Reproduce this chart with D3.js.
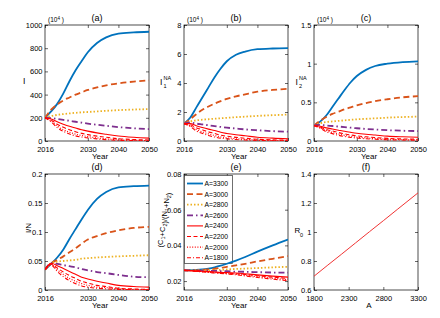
<!DOCTYPE html>
<html>
<head>
<meta charset="utf-8">
<script src="https://cdn.jsdelivr.net/npm/d3@7"></script>
<style>
  body { margin: 0; background: #fff; }
  svg { display: block; font-family: "Liberation Sans", Arial, sans-serif; }
</style>
</head>
<body>
<svg id="chart" width="440" height="318"></svg>
<script>
// ---- data ----
const years = [2016, 2018, 2020, 2022, 2024, 2026, 2028, 2030, 2033, 2036, 2040, 2045, 2050];
const legendLabels = ['A=3300', 'A=3000', 'A=2800', 'A=2600', 'A=2400', 'A=2200', 'A=2000', 'A=1800'];

// (a) I, x10^4
const infected = [
  [200, 255, 320, 410, 515, 610, 690, 765, 845, 893, 925, 936, 942],
  [200, 270, 315, 350, 375, 400, 420, 440, 462, 480, 497, 512, 522],
  [200, 215, 225, 232, 238, 243, 247, 250, 255, 260, 266, 271, 275],
  [200, 198, 190, 182, 174, 166, 158, 150, 140, 131, 120, 110, 103],
  [200, 190, 165, 145, 127, 112, 97, 85, 70, 58, 43, 32, 25],
  [200, 180, 145, 118, 97, 80, 66, 55, 42, 32, 20, 13, 9],
  [200, 172, 128, 98, 76, 59, 47, 38, 27, 19, 11, 6, 4],
  [200, 165, 115, 83, 60, 44, 34, 27, 18, 12, 6, 3, 2]
];
// (b) I1^NA, x10^4
const infected1NA = [
  [1.2, 1.6, 2.3, 3.0, 3.7, 4.4, 5.0, 5.5, 5.95, 6.17, 6.33, 6.38, 6.4],
  [1.2, 1.5, 1.85, 2.15, 2.38, 2.58, 2.75, 2.9, 3.08, 3.22, 3.4, 3.52, 3.6],
  [1.2, 1.35, 1.42, 1.47, 1.5, 1.54, 1.57, 1.6, 1.64, 1.68, 1.73, 1.78, 1.82],
  [1.2, 1.28, 1.2, 1.14, 1.08, 1.02, 0.97, 0.92, 0.86, 0.8, 0.74, 0.68, 0.64],
  [1.2, 1.2, 1.05, 0.93, 0.82, 0.72, 0.6, 0.52, 0.43, 0.36, 0.26, 0.2, 0.16],
  [1.2, 1.12, 0.92, 0.77, 0.63, 0.52, 0.4, 0.33, 0.25, 0.19, 0.12, 0.08, 0.06],
  [1.2, 1.06, 0.8, 0.63, 0.49, 0.38, 0.28, 0.22, 0.16, 0.11, 0.07, 0.04, 0.03],
  [1.2, 1.0, 0.7, 0.52, 0.38, 0.27, 0.19, 0.15, 0.1, 0.07, 0.04, 0.02, 0.01]
];
// (c) I2^NA, x10^4
const infected2NA = [
  [0.2, 0.25, 0.33, 0.44, 0.55, 0.66, 0.76, 0.84, 0.92, 0.97, 1.0, 1.02, 1.03],
  [0.2, 0.26, 0.31, 0.35, 0.38, 0.41, 0.435, 0.46, 0.49, 0.515, 0.54, 0.565, 0.58],
  [0.2, 0.23, 0.245, 0.253, 0.26, 0.267, 0.274, 0.28, 0.287, 0.293, 0.302, 0.31, 0.315],
  [0.2, 0.21, 0.2, 0.194, 0.187, 0.18, 0.172, 0.165, 0.156, 0.149, 0.14, 0.133, 0.128],
  [0.2, 0.19, 0.17, 0.155, 0.14, 0.125, 0.112, 0.1, 0.087, 0.077, 0.063, 0.054, 0.048],
  [0.2, 0.18, 0.15, 0.13, 0.11, 0.093, 0.078, 0.066, 0.054, 0.045, 0.034, 0.027, 0.023],
  [0.2, 0.17, 0.135, 0.11, 0.09, 0.073, 0.06, 0.05, 0.04, 0.032, 0.024, 0.018, 0.015],
  [0.2, 0.165, 0.12, 0.095, 0.074, 0.058, 0.046, 0.038, 0.029, 0.023, 0.016, 0.012, 0.01]
];
// (d) I/N
const infectedRatio = [
  [0.035, 0.045, 0.056, 0.07, 0.088, 0.105, 0.122, 0.138, 0.157, 0.169, 0.177, 0.179, 0.18],
  [0.035, 0.046, 0.052, 0.058, 0.065, 0.072, 0.08, 0.087, 0.093, 0.098, 0.103, 0.107, 0.109],
  [0.035, 0.046, 0.049, 0.05, 0.051, 0.052, 0.054, 0.055, 0.056, 0.057, 0.058, 0.059, 0.06],
  [0.035, 0.046, 0.045, 0.043, 0.041, 0.039, 0.036, 0.034, 0.031, 0.029, 0.026, 0.023, 0.022],
  [0.035, 0.046, 0.042, 0.037, 0.032, 0.027, 0.022, 0.019, 0.015, 0.012, 0.008, 0.006, 0.005],
  [0.035, 0.045, 0.038, 0.031, 0.025, 0.02, 0.015, 0.012, 0.008, 0.006, 0.003, 0.0018, 0.001],
  [0.035, 0.044, 0.035, 0.027, 0.02, 0.015, 0.011, 0.008, 0.005, 0.004, 0.002, 0.001, 0.0005],
  [0.035, 0.043, 0.032, 0.023, 0.016, 0.011, 0.007, 0.005, 0.003, 0.002, 0.001, 0.0005, 0.0002]
];
// (e) (C1+C2)/(N1+N2)
const chronicRatio = [
  [0.026, 0.0261, 0.0262, 0.0265, 0.027, 0.0277, 0.0286, 0.0297, 0.0315, 0.0335, 0.0365, 0.040, 0.0433],
  [0.026, 0.026, 0.026, 0.0262, 0.0265, 0.0269, 0.0274, 0.028, 0.0288, 0.0297, 0.031, 0.0325, 0.034],
  [0.026, 0.026, 0.026, 0.026, 0.026, 0.0261, 0.0263, 0.0265, 0.0268, 0.027, 0.0273, 0.0277, 0.028],
  [0.026, 0.026, 0.0259, 0.0259, 0.0258, 0.0257, 0.0256, 0.0255, 0.0253, 0.0252, 0.025, 0.0248, 0.0247],
  [0.026, 0.0259, 0.0257, 0.0255, 0.0253, 0.0251, 0.0249, 0.0248, 0.0245, 0.0241, 0.0235, 0.0228, 0.0222],
  [0.026, 0.0258, 0.0256, 0.0254, 0.0252, 0.0249, 0.0247, 0.0245, 0.0241, 0.0237, 0.023, 0.0222, 0.0215],
  [0.026, 0.0258, 0.0255, 0.0253, 0.025, 0.0247, 0.0245, 0.0242, 0.0238, 0.0233, 0.0225, 0.0216, 0.0208],
  [0.026, 0.0257, 0.0254, 0.0251, 0.0248, 0.0245, 0.0243, 0.024, 0.0235, 0.0229, 0.022, 0.0211, 0.0202]
];
// (f) R0 against A
const aValues = [1800, 2000, 2200, 2400, 2600, 2800, 3000, 3300];
const r0Values = [0.695, 0.772, 0.848, 0.925, 1.002, 1.078, 1.155, 1.27];

const yearTicks = [2016, 2030, 2040, 2050];
const aTicks = [1800, 2300, 2800, 3300];

// matlab-ish line styles
const colors = ['#0072BD', '#D95319', '#EDB120', '#7E2F8E', '#FF0000', '#FF0000', '#FF0000', '#FF0000'];
const widths = [1.8, 1.8, 1.8, 1.8, 1.1, 1.1, 1.1, 1.1];
const dashes = [null, '6,3.5', '1.5,2', '6,3,1.5,3', null, '4,2.5', '1,1.6', '4,2,1,2'];

const svg = d3.select('#chart');
const font = '"Liberation Sans", Arial, sans-serif';
const colX = [45, 184, 314];
const rowY = [25, 174];
const pw = 104, ph = 116;

const panels = [
  { tag: '(a)', col: 0, row: 0, series: infected, yDomain: [0, 1000], yTicks: [0, 200, 400, 600, 800, 1000], exp: true },
  { tag: '(b)', col: 1, row: 0, series: infected1NA, yDomain: [0, 8], yTicks: [0, 2, 4, 6, 8], exp: true },
  { tag: '(c)', col: 2, row: 0, series: infected2NA, yDomain: [0, 1.5], yTicks: [0, 0.5, 1, 1.5], exp: true },
  { tag: '(d)', col: 0, row: 1, series: infectedRatio, yDomain: [0, 0.2], yTicks: [0, 0.05, 0.1, 0.15, 0.2] },
  { tag: '(e)', col: 1, row: 1, series: chronicRatio, yDomain: [0.015, 0.08], yTicks: [0.02, 0.04, 0.06, 0.08], legend: true },
  { tag: '(f)', col: 2, row: 1, yDomain: [0.6, 1.4], yTicks: [0.6, 0.8, 1, 1.2, 1.4] }
];

function styleAxis(g) {
  g.select('.domain').remove();
  g.attr('font-family', font).attr('font-size', 7.5);
  g.selectAll('line').attr('stroke', '#000').attr('stroke-width', 0.6);
  g.selectAll('text').attr('fill', '#000');
}

panels.forEach((p, i) => {
  const x0 = colX[p.col], y0 = rowY[p.row];
  const g = svg.append('g').attr('transform', `translate(${x0},${y0})`);
  const isF = !p.series;
  const x = d3.scaleLinear().domain(isF ? [1800, 3300] : [2016, 2050]).range([0, pw]);
  const y = d3.scaleLinear().domain(p.yDomain).range([ph, 0]);
  const xt = isF ? aTicks : yearTicks;

  svg.append('clipPath').attr('id', 'clip' + i)
    .append('rect').attr('x', x0).attr('y', y0).attr('width', pw).attr('height', ph);
  const plot = svg.append('g').attr('clip-path', `url(#clip${i})`)
    .append('g').attr('transform', `translate(${x0},${y0})`);

  if (isF) {
    const line = d3.line().x((d, k) => x(aValues[k])).y(d => y(d));
    plot.append('path').datum(r0Values).attr('d', line)
      .attr('fill', 'none').attr('stroke', '#f03434').attr('stroke-width', 1);
  } else {
    const line = d3.line().curve(d3.curveMonotoneX).x((d, k) => x(years[k])).y(d => y(d));
    // draw reds first so coloured ones end up on top like matlab ordering? matlab draws in order
    p.series.forEach((s, k) => {
      plot.append('path').datum(s).attr('d', line)
        .attr('fill', 'none').attr('stroke', colors[k])
        .attr('stroke-width', widths[k])
        .attr('stroke-dasharray', dashes[k]);
    });
  }

  // axes, ticks pointing inwards on all four sides
  g.append('g').attr('transform', `translate(0,${ph})`)
    .call(d3.axisBottom(x).tickValues(xt).tickSize(-3).tickPadding(6).tickFormat(d => String(d)))
    .call(styleAxis);
  g.append('g')
    .call(d3.axisTop(x).tickValues(xt).tickSize(-3).tickFormat(''))
    .call(styleAxis);
  g.append('g')
    .call(d3.axisLeft(y).tickValues(p.yTicks).tickSize(-3).tickPadding(2.5).tickFormat(d => String(d)))
    .call(styleAxis);
  g.append('g').attr('transform', `translate(${pw},0)`)
    .call(d3.axisRight(y).tickValues(p.yTicks).tickSize(-3).tickFormat(''))
    .call(styleAxis);

  g.append('rect').attr('width', pw).attr('height', ph)
    .attr('fill', 'none').attr('stroke', '#000').attr('stroke-width', 0.7);

  // panel tag
  g.append('text').attr('x', pw / 2).attr('y', -4).attr('text-anchor', 'middle')
    .attr('font-size', 9).attr('font-family', font).text(p.tag);

  // x label
  g.append('text').attr('x', pw / 2 + 3).attr('y', ph + 18).attr('text-anchor', 'middle')
    .attr('font-size', 8).attr('font-family', font).text(isF ? 'A' : 'Year');

  if (p.exp) {
    const t = g.append('text').attr('x', 3).attr('y', -3)
      .attr('font-size', 6.5).attr('font-family', font);
    t.append('tspan').text('(10');
    t.append('tspan').attr('dy', -2.5).attr('font-size', 4.5).text('4');
    t.append('tspan').attr('dy', 2.5).text(' )');
  }

  if (p.legend) {
    const lg = g.append('g');
    lg.append('rect').attr('x', 0.5).attr('y', 1.5).attr('width', 48).attr('height', 88)
      .attr('fill', '#fff').attr('stroke', '#333').attr('stroke-width', 0.7);
    legendLabels.forEach((lab, k) => {
      const ly = 9.5 + k * 10.6;
      lg.append('line').attr('x1', 3).attr('x2', 19).attr('y1', ly).attr('y2', ly)
        .attr('stroke', colors[k]).attr('stroke-width', widths[k])
        .attr('stroke-dasharray', dashes[k]);
      lg.append('text').attr('x', 20.5).attr('y', ly + 2.4)
        .attr('font-size', 6.8).attr('font-family', font).text(lab);
    });
  }
});

// y labels
const lab = (x, y, size) => svg.append('text').attr('x', x).attr('y', y)
  .attr('font-size', size).attr('font-family', font);

lab(23, 84, 8.5).text('I');

lab(160, 85, 8.5).text('I');
lab(163.5, 79.5, 5.5).text('NA');
lab(163.5, 88, 5.5).text('1');

lab(295.5, 85, 8.5).text('I');
lab(299, 79.5, 5.5).text('NA');
lab(299, 88, 5.5).text('2');

lab(0, 0, 8).attr('transform', 'translate(31,228) rotate(-90)')
  .attr('text-anchor', 'middle').text('I/N');

{
  const t = lab(0, 0, 7.5).attr('transform', 'translate(163,220) rotate(-90)')
    .attr('text-anchor', 'middle');
  const sub = (s) => { t.append('tspan').attr('dy', 2).attr('font-size', 5.5).text(s); t.append('tspan').attr('dy', -2).text(''); };
  t.append('tspan').text('(C');
  sub('1');
  t.append('tspan').text('+C');
  sub('2');
  t.append('tspan').text(')/(N');
  sub('1');
  t.append('tspan').text('+N');
  sub('2');
  t.append('tspan').text(')');
}

lab(294.5, 232.5, 8).text('R');
lab(300, 236.5, 5.5).text('0');
</script>
</body>
</html>
